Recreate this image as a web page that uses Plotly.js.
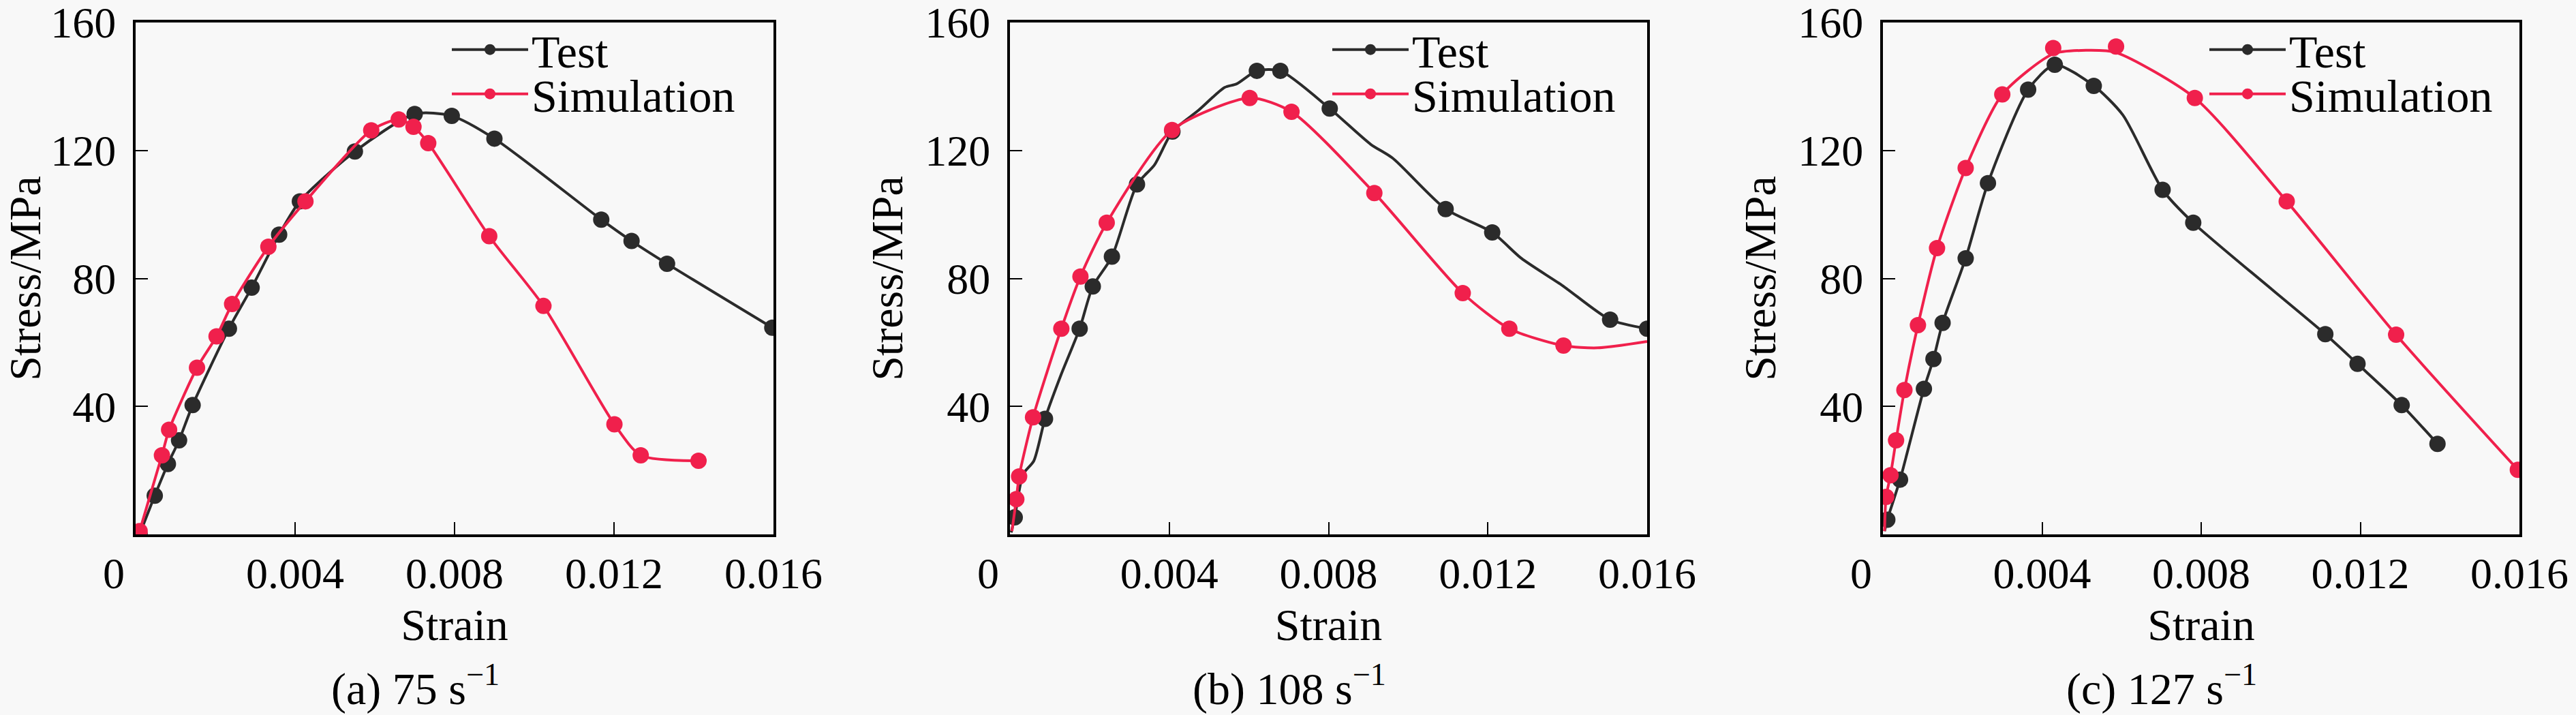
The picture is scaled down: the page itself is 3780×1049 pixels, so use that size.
<!DOCTYPE html>
<html>
<head>
<meta charset="utf-8">
<script src="https://cdn.plot.ly/plotly-3.0.1.min.js"></script>
<style>
  html, body { margin: 0; padding: 0; background: #f8f8f8; }
  #chart { width: 3780px; height: 1049px; }
</style>
</head>
<body>
<div id="chart"></div>
<script>
// tick positions and labels
var strainTicks = [0, 0.004, 0.008, 0.012, 0.016];
var strainLabels = ['0\u00a0\u00a0\u00a0\u00a0', '0.004', '0.008', '0.012', '0.016'];
var stressTicks = [40, 80, 120, 160];
var captions = ['(a) 75 s<sup>\u22121</sup>', '(b) 108 s<sup>\u22121</sup>', '(c) 127 s<sup>\u22121</sup>'];
var seriesNames = ['Test', 'Simulation'];

// (a) 75 s-1  -- markers on every vertex
var aTestX = [0.0001, 0.00048, 0.00081, 0.00109, 0.00143, 0.00234, 0.00291, 0.0036, 0.00412, 0.0055, 0.0070, 0.00793, 0.0090, 0.01168, 0.01244, 0.01333, 0.01597];
var aTestY = [0, 12.1, 22.0, 29.4, 40.4, 64.3, 77.1, 93.7, 104.1, 119.7, 131.4, 130.8, 123.7, 98.4, 91.7, 84.6, 64.6];
var aSimX = [0.0001, 0.00066, 0.00084, 0.00154, 0.00203, 0.00242, 0.00333, 0.00426, 0.00591, 0.0066, 0.00697, 0.00734, 0.00887, 0.01023, 0.01201, 0.01267, 0.01412];
var aSimY = [1.0, 24.7, 32.7, 52.1, 61.9, 72.0, 89.9, 104.1, 126.3, 129.7, 127.4, 122.3, 93.2, 71.4, 34.4, 24.7, 23.0];

// (b) 108 s-1  -- curve vertices, then the marked points
var bTestX = [0.00003, 0.00012, 0.00033, 0.0006, 0.00088, 0.00129, 0.00175, 0.00208, 0.00256, 0.00319, 0.00363, 0.00408, 0.00473, 0.00539, 0.00569, 0.0062, 0.00679, 0.00803, 0.00906, 0.00961, 0.01094, 0.01211, 0.01284, 0.01387, 0.01507, 0.016];
var bTestY = [0.6, 5.3, 18.8, 23.0, 36.1, 50.1, 64.3, 77.5, 86.8, 109.4, 115.5, 125.9, 132.5, 139.7, 140.8, 144.9, 144.9, 133.1, 121.9, 117.6, 101.7, 94.4, 86.3, 77.8, 67.1, 64.3];
var bTestMarkX = [0.00012, 0.00088, 0.00175, 0.00208, 0.00256, 0.00319, 0.00408, 0.0062, 0.00679, 0.00803, 0.01094, 0.01211, 0.01507, 0.016];
var bTestMarkY = [5.3, 36.1, 64.3, 77.5, 86.8, 109.4, 125.9, 144.9, 144.9, 133.1, 101.7, 94.4, 67.1, 64.3];
var bSimX = [0.00005, 0.00016, 0.00023, 0.00058, 0.00129, 0.00177, 0.00243, 0.00407, 0.00602, 0.00707, 0.00915, 0.01137, 0.01254, 0.0139, 0.01476, 0.016];
var bSimY = [1.0, 11.0, 18.1, 36.6, 64.3, 80.6, 97.4, 126.4, 136.4, 132.1, 106.7, 75.4, 64.3, 59.0, 58.3, 60.3];
var bSimMarkX = [0.00016, 0.00023, 0.00058, 0.00129, 0.00177, 0.00243, 0.00407, 0.00602, 0.00707, 0.00915, 0.01137, 0.01254, 0.0139];
var bSimMarkY = [11.0, 18.1, 36.6, 64.3, 80.6, 97.4, 126.4, 136.4, 132.1, 106.7, 75.4, 64.3, 59.0];

// (c) 127 s-1
var cTestX = [0.00004, 0.00011, 0.00043, 0.00103, 0.00127, 0.0015, 0.00208, 0.00264, 0.00365, 0.00432, 0.0053, 0.00603, 0.00703, 0.0078, 0.01112, 0.01193, 0.01304, 0.01394];
var cTestY = [1.0, 4.6, 17.1, 45.5, 54.8, 66.1, 86.3, 109.8, 139.0, 146.8, 140.2, 131.1, 107.7, 97.4, 62.6, 53.3, 40.4, 28.3];
var cTestMarkX = [0.00011, 0.00043, 0.00103, 0.00127, 0.0015, 0.00208, 0.00264, 0.00365, 0.00432, 0.0053, 0.00703, 0.0078, 0.01112, 0.01193, 0.01304, 0.01394];
var cTestMarkY = [4.6, 17.1, 45.5, 54.8, 66.1, 86.3, 109.8, 139.0, 146.8, 140.2, 107.7, 97.4, 62.6, 53.3, 40.4, 28.3];
var cSimX = [0.00004, 0.00008, 0.00019, 0.00033, 0.00054, 0.00088, 0.00136, 0.00208, 0.0030, 0.00428, 0.00513, 0.00586, 0.00784, 0.01015, 0.0129, 0.01596];
var cSimY = [1.0, 11.7, 18.5, 29.4, 45.1, 65.4, 89.5, 114.5, 137.5, 150.2, 151.3, 150.6, 136.4, 104.1, 62.4, 20.2];
var cSimMarkX = [0.00008, 0.00019, 0.00033, 0.00054, 0.00088, 0.00136, 0.00208, 0.0030, 0.00428, 0.00586, 0.00784, 0.01015, 0.0129, 0.01596];
var cSimMarkY = [11.7, 18.5, 29.4, 45.1, 65.4, 89.5, 114.5, 137.5, 152.0, 152.5, 136.4, 104.1, 62.4, 20.2];

var panels = [
	{ test: [aTestX, aTestY, aTestX, aTestY], sim: [aSimX, aSimY, aSimX, aSimY] },
	{ test: [bTestX, bTestY, bTestMarkX, bTestMarkY], sim: [bSimX, bSimY, bSimMarkX, bSimMarkY] },
	{ test: [cTestX, cTestY, cTestMarkX, cTestMarkY], sim: [cSimX, cSimY, cSimMarkX, cSimMarkY] }
];

var W = 3780, H = 1049;
var FONT = '"Liberation Serif", "Times New Roman", serif';
var colors = ['#2b2b2b', '#f0204c'];

// plot frames in pixels (left, right), shared top/bottom
var frames = [[199, 1135], [1482, 2417], [2763, 3697]];
var plotTop = 33, plotBottom = 784;
var legendLeft = [658, 1950, 3237];
var legendRows = [73, 138];

var data = [];
var layout = {
	width: W, height: H,
	margin: { t: 0, b: 0, l: 0, r: 0 },
	paper_bgcolor: '#f8f8f8',
	plot_bgcolor: '#f8f8f8',
	font: { family: FONT, size: 64, color: '#000' },
	annotations: []
};

for (var p = 0; p < 3; p++)
{
	var sfx = p == 0 ? '' : String(p + 1);
	var xa = 'x' + sfx, ya = 'y' + sfx;
	var series = [panels[p].test, panels[p].sim];

	for (var s = 0; s < 2; s++)
	{
		var d = series[s];
		var n = p * 2 + s;
		var legId = n == 0 ? 'legend' : 'legend' + (n + 1);
		// curve
		data.push({
			x: d[0], y: d[1], xaxis: xa, yaxis: ya,
			type: 'scatter', mode: 'lines', showlegend: false, hoverinfo: 'skip',
			line: { color: colors[s], width: 4, shape: 'spline', smoothing: 0.7 }
		});
		// markers
		data.push({
			x: d[2], y: d[3], xaxis: xa, yaxis: ya,
			type: 'scatter', mode: 'markers', showlegend: false,
			marker: { color: colors[s], size: 24 }
		});
		// legend entry only
		data.push({
			x: [null], y: [null], xaxis: xa, yaxis: ya,
			type: 'scatter', mode: 'lines+markers', name: seriesNames[s], legend: legId,
			line: { color: colors[s], width: 4 },
			marker: { color: colors[s], size: 24 }
		});
		layout[legId] = {
			x: legendLeft[p] / W, y: 1 - legendRows[s] / H,
			xanchor: 'left', yanchor: 'middle',
			bgcolor: 'rgba(0,0,0,0)', borderwidth: 0,
			itemwidth: 112,
			font: { family: FONT, size: 68, color: '#000' }
		};
	}

	layout['xaxis' + sfx] = {
		domain: [frames[p][0] / W, frames[p][1] / W],
		anchor: ya,
		range: [0, 0.016],
		tickmode: 'array', tickvals: strainTicks, ticktext: strainLabels,
		ticks: 'inside', ticklen: 18, tickwidth: 2, tickcolor: '#000',
		ticklabelstandoff: -2, ticklabeloverflow: 'allow',
		showline: true, linewidth: 4, linecolor: '#000', mirror: true,
		showgrid: false, zeroline: false,
		tickfont: { family: FONT, size: 64, color: '#000' },
		title: { text: 'Strain', standoff: 18, font: { family: FONT, size: 66, color: '#000' } }
	};
	layout['yaxis' + sfx] = {
		domain: [1 - plotBottom / H, 1 - plotTop / H],
		anchor: xa,
		range: [0, 160],
		tickmode: 'array', tickvals: stressTicks,
		ticks: 'inside', ticklen: 18, tickwidth: 2, tickcolor: '#000',
		ticklabelstandoff: 12, ticklabeloverflow: 'allow',
		showline: true, linewidth: 4, linecolor: '#000', mirror: true,
		showgrid: false, zeroline: false,
		tickfont: { family: FONT, size: 64, color: '#000' },
		title: { text: 'Stress/MPa', standoff: 12, font: { family: FONT, size: 66, color: '#000' } }
	};

	layout.annotations.push({
		xref: 'paper', yref: 'paper',
		x: ((frames[p][0] + frames[p][1]) / 2 - 58) / W, y: 1 - 1006 / H,
		xanchor: 'center', yanchor: 'middle',
		text: captions[p], showarrow: false,
		font: { family: FONT, size: 66, color: '#000' }
	});
}

Plotly.newPlot('chart', data, layout, { staticPlot: true });
</script>
</body>
</html>
